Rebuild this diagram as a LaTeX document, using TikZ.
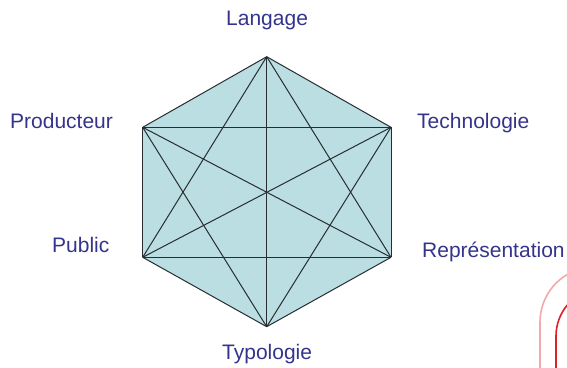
\documentclass[tikz,border=0pt]{standalone}
\usepackage{fontspec}
\setmainfont{Liberation Sans}
\definecolor{labelblue}{RGB}{52,52,140}
\definecolor{hexfill}{RGB}{186,222,226}
\definecolor{edgegray}{RGB}{40,45,50}
\definecolor{palered}{RGB}{240,170,170}
\definecolor{brightred}{RGB}{228,30,40}
\begin{document}
\begin{tikzpicture}[x=1pt,y=-1pt,
  lbl/.style={anchor=base west,inner sep=0pt,text=labelblue,font=\fontsize{21}{24}\selectfont},
  edge/.style={draw=edgegray,line width=1pt}]
\useasboundingbox (0,0) rectangle (567,367);
\clip (0,0) rectangle (567,367);
\coordinate (L) at (266.7,56.7);
\coordinate (T) at (391,127.3);
\coordinate (R) at (391,257.3);
\coordinate (Y) at (266.7,326.7);
\coordinate (U) at (142.7,257.3);
\coordinate (P) at (142.7,127.3);
\fill[hexfill] (L) -- (T) -- (R) -- (Y) -- (U) -- (P) -- cycle;
\foreach \a/\b in {L/T,L/R,L/Y,L/U,L/P,T/R,T/Y,T/U,T/P,R/Y,R/U,R/P,Y/U,Y/P,U/P}
  \draw[edge] (\a) -- (\b);
\node[lbl] (langage) at (226,25) {Langage};
\node[lbl] (prod) at (10,128) {Producteur};
\node[lbl] (tech) at (417,128) {Technologie};
\node[lbl] (public) at (52,252) {Public};
\node[lbl] (repr) at (422,257) {Représentation};
\node[lbl] (typo) at (222,359) {Typologie};
\draw[palered,line width=1.6pt] (540,370) -- (540,322) arc[start angle=180,end angle=260,radius=55];
\draw[brightred,line width=1.6pt] (556,370) -- (556,336) arc[start angle=180,end angle=260,radius=48];
\end{tikzpicture}
\end{document}
